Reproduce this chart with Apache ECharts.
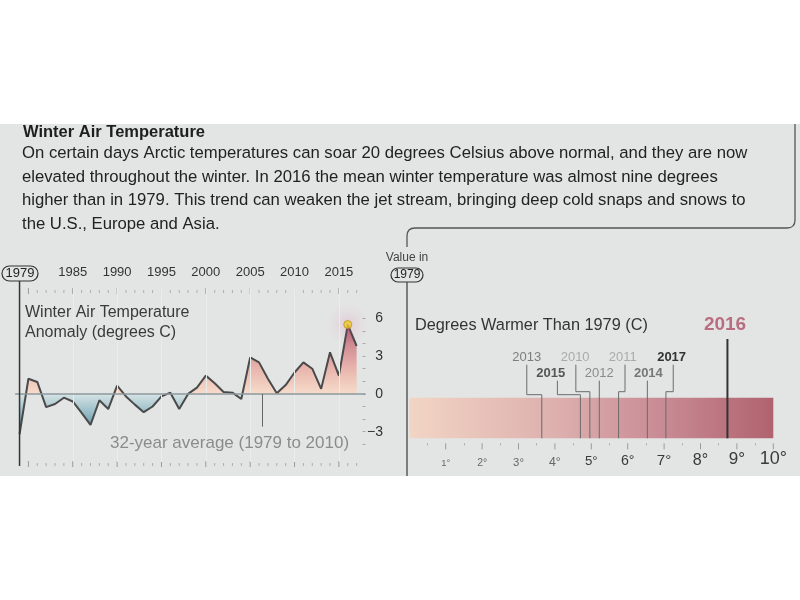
<!DOCTYPE html>
<html>
<head>
<meta charset="utf-8">
<title>Winter Air Temperature</title>
<script src="https://cdn.jsdelivr.net/npm/echarts@6/dist/echarts.min.js"></script>
<style>
  html, body { margin: 0; padding: 0; background: #fff; }
  #chart { width: 800px; height: 600px; }
</style>
</head>
<body>
<div id="chart"></div>
<script>
// winter air temperature anomaly (degrees C, vs 1979-2010 average)
var years = [1979, 1980, 1981, 1982, 1983, 1984, 1985, 1986, 1987, 1988,
  1989, 1990, 1991, 1992, 1993, 1994, 1995, 1996, 1997, 1998,
  1999, 2000, 2001, 2002, 2003, 2004, 2005, 2006, 2007, 2008,
  2009, 2010, 2011, 2012, 2013, 2014, 2015, 2016, 2017];
var anomaly = [-3.2, 1.2, 0.95, -1.05, -0.8, -0.3, -0.6, -1.5, -2.45, -0.5,
  -1.2, 0.65, -0.2, -0.85, -1.45, -1.0, -0.2, 0.1, -1.2, 0.0,
  0.5, 1.45, 0.85, 0.15, 0.1, -0.4, 2.9, 2.5, 1.2, 0.05,
  0.7, 1.7, 2.5, 2.0, 0.4, 3.3, 1.45, 5.5, 3.8];

// degrees warmer than 1979 (right panel)
var warmerYears = ['2013', '2015', '2010', '2012', '2011', '2014', '2017', '2016'];
var warmerValues = [3.64, 4.7, 4.96, 5.22, 5.75, 6.54, 7.05, 8.74];

// tick labels
var yearLabels = [1985, 1990, 1995, 2000, 2005, 2010, 2015];
var anomalyLabels = [-3, 0, 3, 6];
var degreeLabels = [1, 2, 3, 4, 5, 6, 7, 8, 9, 10];

var font = '"Liberation Sans", Arial, sans-serif';

// how each year marker on the right bar is drawn
var markerLook = {
  '2013': { dx: -15, row: 'up', elbow: 3, tx: 0, color: '#7d7d7d', weight: 'normal' },
  '2015': { dx: -23, row: 'low', elbow: 3, tx: -6.6, color: '#555', weight: 'bold' },
  '2010': { dx: -14, row: 'up', elbow: 6, tx: -0.7, color: '#aaaaaa', weight: 'normal' },
  '2012': { dx: 0, row: 'low', elbow: 0, tx: 0, color: '#8a8a8a', weight: 'normal' },
  '2011': { dx: 6.4, row: 'up', elbow: 6, tx: -2.3, color: '#aaaaaa', weight: 'normal' },
  '2014': { dx: 0, row: 'low', elbow: 0, tx: 1, color: '#777', weight: 'bold' },
  '2017': { dx: 7.3, row: 'up', elbow: 6, tx: -1.6, color: '#333', weight: 'bold' },
  '2016': { dx: 0, row: 'top', elbow: 0, tx: -2.4, color: '#b86e80', weight: 'bold' }
};
var rowOffset = {   // label centre / leader top, px above the bar
  up: [40.4, 33],
  low: [24.4, 17],
  top: [72.7, 58.7]
};

var chart = echarts.init(document.getElementById('chart'));

var points = years.map(function (y, i) { return [y, anomaly[i]]; });
var maxV = Math.max.apply(null, anomaly);
var minV = Math.min.apply(null, anomaly);
var peak = points[anomaly.indexOf(maxV)];
function stop(v) { return (maxV - v) / (maxV - minV); }

function renderMarker(params, api) {
  var name = warmerYears[params.dataIndex];
  var look = markerLook[name];
  var c = api.coord([api.value(0), 0]);
  var h = api.size([0, 1])[1];
  var x = c[0];
  var yTop = c[1] - h / 2;
  var yBot = c[1] + h / 2;
  var lx = x + look.dx;
  var off = rowOffset[look.row];
  var is2016 = look.row === 'top';
  var pts = [[lx, yTop - off[1]]];
  if (look.dx !== 0) {
    pts.push([lx, yTop - look.elbow]);
    pts.push([x, yTop - look.elbow]);
  }
  pts.push([x, yBot]);
  return {
    type: 'group',
    children: [{
      type: 'polyline',
      shape: { points: pts },
      style: { stroke: is2016 ? '#333' : '#6b6b6b', lineWidth: is2016 ? 2 : 1, fill: null }
    }, {
      type: 'text',
      style: {
        text: name,
        x: lx + look.tx,
        y: yTop - off[0],
        align: 'center',
        verticalAlign: 'middle',
        fontFamily: font,
        fontSize: is2016 ? 19 : 13,
        fontWeight: look.weight,
        fill: look.color
      }
    }]
  };
}

// year tick rows above and below the anomaly plot
function renderYearTick(params, api) {
  var yr = api.value(0);
  var x = api.coord([yr, 0])[0];
  var cs = params.coordSys;
  var major = yr % 5 === 0;
  var st = { stroke: major ? '#999' : '#adadad', lineWidth: 1 };
  var top = cs.y, bot = cs.y + cs.height;
  return {
    type: 'group',
    children: [
      { type: 'line', shape: { x1: x, y1: top + (major ? 0 : 2), x2: x, y2: top + (major ? 6 : 5) }, style: st },
      { type: 'line', shape: { x1: x, y1: bot + (major ? -1 : 1), x2: x, y2: bot + (major ? 5 : 4) }, style: st }
    ]
  };
}

// whole-degree ticks under the bar
function renderDegreeTick(params, api) {
  var x = api.coord([api.value(0), 0])[0];
  var bot = params.coordSys.y + params.coordSys.height;
  return { type: 'line', shape: { x1: x, y1: bot + 5, x2: x, y2: bot + 11 }, style: { stroke: '#999', lineWidth: 1 } };
}

var degreeRich = {};
degreeLabels.forEach(function (d) {
  degreeRich['s' + d] = {
    fontSize: 8.5 + d * 0.95,
    color: d < 5 ? '#666' : '#3a3a3a',
    fontFamily: font
  };
});

function plain(v) { return String(v); }

var option = {
  animation: false,
  backgroundColor: '#fff',
  textStyle: { fontFamily: font },
  grid: [
    { left: 15.1, right: 434.5, top: 288, bottom: 138 },
    { left: 409.3, right: 26.7, top: 397.7, height: 40.6 }
  ],
  xAxis: [
    {
      gridIndex: 0, type: 'value', position: 'top', min: 1978.5, max: 2018,
      axisLine: { show: false }, splitLine: { show: false }, axisTick: { show: false },
      axisLabel: { customValues: yearLabels, fontSize: 13, color: '#333', margin: 9, formatter: plain }
    },
    {
      gridIndex: 1, type: 'value', position: 'bottom', min: 0, max: 10, interval: 1, offset: 5,
      axisLine: { show: false }, splitLine: { show: false },
      axisTick: { show: false },
      minorTick: { show: true, splitNumber: 2, length: 2, lineStyle: { color: '#aaa' } },
      axisLabel: {
        customValues: degreeLabels, margin: 25, verticalAlign: 'bottom',
        formatter: function (v) { return '{s' + v + '|' + v + '°}'; },
        rich: degreeRich
      }
    }
  ],
  yAxis: [
    {
      gridIndex: 0, type: 'value', position: 'right', min: -5.4, max: 8.4,
      axisLine: { show: false }, splitLine: { show: false },
      axisTick: { inside: true, length: 3, customValues: [-4, -3, -2, -1, 0, 1, 2, 3, 4, 5, 6], lineStyle: { color: '#aaa' } },
      axisLabel: {
        customValues: anomalyLabels, fontSize: 14, color: '#333', align: 'right', margin: 17.5,
        formatter: function (v) { return String(v).replace('-', '\u2212'); }
      }
    },
    { gridIndex: 1, type: 'category', data: [''], show: false }
  ],
  series: [
    {
      // faint five-year guides
      type: 'line', xAxisIndex: 0, yAxisIndex: 0, data: [], z: 1, silent: true,
      markLine: {
        symbol: 'none', silent: true, label: { show: false },
        lineStyle: { color: '#eaeceb', width: 1, type: 'solid' },
        data: yearLabels.map(function (y) { return { xAxis: y }; })
      }
    },
    {
      type: 'custom', xAxisIndex: 0, yAxisIndex: 0, z: 2, silent: true, clip: false,
      data: years.slice(1).map(function (y) { return [y, 0]; }),
      renderItem: renderYearTick
    },
    {
      type: 'line', xAxisIndex: 0, yAxisIndex: 0, data: points, z: 3,
      symbol: 'none', silent: true,
      lineStyle: { color: '#4a4a4a', width: 2 },
      areaStyle: {
        opacity: 1,
        color: {
          type: 'linear', x: 0, y: 0, x2: 0, y2: 1,
          colorStops: [
            { offset: 0, color: '#ad5870' },
            { offset: stop(4), color: '#cf8a92' },
            { offset: stop(2), color: '#e8b5ad' },
            { offset: stop(0), color: '#f6dccb' },
            { offset: stop(0) + 0.001, color: '#d6e3e5' },
            { offset: stop(-1.5), color: '#96bcc6' },
            { offset: 1, color: '#4d8a9c' }
          ]
        }
      },
      markLine: {
        symbol: 'none', silent: true, label: { show: false },
        data: [
          { yAxis: 0, lineStyle: { color: '#8c999e', width: 1.5, type: 'solid' } },
          [
            { coord: [2006.4, 0], lineStyle: { color: '#666', width: 1, type: 'solid' } },
            { coord: [2006.4, -2.6] }
          ]
        ]
      }
    },
    {
      type: 'scatter', xAxisIndex: 0, yAxisIndex: 0, data: [peak], z: 4, silent: true,
      symbolSize: 8,
      itemStyle: {
        color: '#f0cf2a', borderColor: '#b8951a', borderWidth: 1,
        shadowBlur: 16, shadowColor: 'rgba(236, 80, 150, 0.95)'
      }
    },
    {
      type: 'bar', xAxisIndex: 1, yAxisIndex: 1, data: [degreeLabels[degreeLabels.length - 1]],
      barWidth: '100%', silent: true, z: 2,
      itemStyle: {
        color: {
          type: 'linear', x: 0, y: 0, x2: 1, y2: 0,
          colorStops: [
            { offset: 0, color: '#f2d5c5' },
            { offset: 0.4, color: '#ddb0ae' },
            { offset: 0.7, color: '#c88a94' },
            { offset: 1, color: '#b0636f' }
          ]
        }
      }
    },
    {
      type: 'custom', xAxisIndex: 1, yAxisIndex: 1, z: 2, silent: true, clip: false,
      data: degreeLabels.map(function (d) { return [d, 0]; }),
      renderItem: renderDegreeTick
    },
    {
      type: 'custom', xAxisIndex: 1, yAxisIndex: 1, z: 5, silent: true,
      data: warmerValues.map(function (v) { return [v, 0]; }),
      renderItem: renderMarker
    }
  ]
};

chart.setOption(option);

var x1979 = chart.convertToPixel({ xAxisIndex: 0, yAxisIndex: 0 }, [years[0], 0])[0];

var bodyLines = [
  'On certain days Arctic temperatures can soar 20 degrees Celsius above normal, and they are now',
  'elevated throughout the winter. In 2016 the mean winter temperature was almost nine degrees',
  'higher than in 1979. This trend can weaken the jet stream, bringing deep cold snaps and snows to',
  'the U.S., Europe and Asia.'
];

function label(text, x, y, size, color, extra) {
  var st = { text: text, x: x, y: y, verticalAlign: 'middle', font: size + 'px ' + font, fill: color };
  if (extra) { for (var k in extra) { st[k] = extra[k]; } }
  return { type: 'text', silent: true, z: 100, style: st };
}

var frame = { stroke: '#555', lineWidth: 1.3, fill: null };
var graphics = [
  { type: 'rect', z: -10, silent: true, shape: { x: 0, y: 124, width: 800, height: 352 }, style: { fill: '#e3e5e4' } },
  // speech-bubble outline under the text
  { type: 'line', silent: true, shape: { x1: 795, y1: 124, x2: 795, y2: 220 }, style: frame },
  { type: 'bezierCurve', silent: true, shape: { x1: 795, y1: 220, cpx1: 795, cpy1: 228, x2: 787, y2: 228 }, style: frame },
  { type: 'line', silent: true, shape: { x1: 787, y1: 228, x2: 415, y2: 228 }, style: frame },
  { type: 'bezierCurve', silent: true, shape: { x1: 415, y1: 228, cpx1: 407, cpy1: 228, x2: 407, y2: 236 }, style: frame },
  { type: 'line', silent: true, shape: { x1: 407, y1: 236, x2: 407, y2: 247 }, style: frame },
  label('Winter Air Temperature', 23, 132.5, 16.5, '#1e1e1e', { font: 'bold 16.5px ' + font })
];
bodyLines.forEach(function (t, i) {
  graphics.push(label(t, 22, 153.5 + i * 23.5, 16.7, '#222'));
});
graphics = graphics.concat([
  // left panel furniture
  { type: 'rect', silent: true, shape: { x: 2, y: 266, width: 36, height: 15, r: 7.5 }, style: { stroke: '#333', lineWidth: 1.2, fill: null } },
  label('1979', 20, 273.5, 13, '#222', { align: 'center' }),
  { type: 'line', silent: true, z: 10, shape: { x1: x1979, y1: 281, x2: x1979, y2: 466 }, style: { stroke: '#333', lineWidth: 1.5 } },
  label('Winter Air Temperature', 25, 313, 16, '#3a3a3a'),
  label('Anomaly (degrees C)', 25, 333, 16, '#3a3a3a'),
  label('32-year average (1979 to 2010)', 110, 443, 17, '#8b8b8b'),
  // right panel furniture
  label('Value in', 407, 258, 12, '#444', { align: 'center' }),
  { type: 'rect', silent: true, shape: { x: 391, y: 268, width: 32, height: 14, r: 7 }, style: { stroke: '#333', lineWidth: 1.2, fill: null } },
  label('1979', 407, 275, 12, '#222', { align: 'center' }),
  { type: 'line', silent: true, shape: { x1: 407, y1: 282, x2: 407, y2: 476 }, style: { stroke: '#444', lineWidth: 1.3 } },
  label('Degrees Warmer Than 1979 (C)', 415, 326, 16.3, '#333')
]);

chart.setOption({ graphic: graphics });
</script>
</body>
</html>
